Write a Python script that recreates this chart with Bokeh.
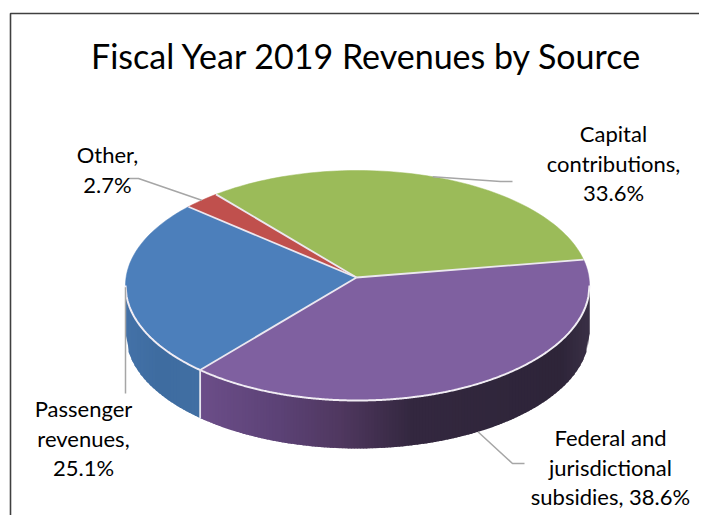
import math
from bokeh.plotting import figure
from bokeh.models import Range1d
from bokeh.core.properties import value
from bokeh.embed import file_html
from bokeh.resources import INLINE

TITLE = "Fiscal Year 2019 Revenues by Source"
categories = ["Federal and jurisdictional subsidies", "Passenger revenues", "Other", "Capital contributions"]
shares = [38.6, 25.1, 2.7, 33.6]
colors = ["#7f60a0", "#4c7fbb", "#c0504d", "#9bbb59"]
label_lines = [["Federal and", "jurisdictional", "subsidies, 38.6%"],
               ["Passenger", "revenues,", "25.1%"],
               ["Other,", "2.7%"],
               ["Capital", "contributions,", "33.6%"]]

# layout (reference pixels)
FONT = "Lato"
CX, CY, RX, RY = 357.0, 285.0, 232.0, 115.0
AX, AY = 356.0, 277.0
DEPTH = 48.0
START = 81.0
label_x = [610, 83, 107, 613]
label_y = [446, 417, 163, 142]
LINE_H = 29.5
BASE_SHIFT = 0.4   # rendered baseline sits this many em below the requested y
TITLE_PX, LABEL_PX = 34, 22
elbows = [[(512, 463), (524, 463)], [(125, 393)], [(138, 178), (128, 178)], [(500, 181), (512, 181)]]
leader_drop = [DEPTH, 0, 0, 0]
purple_stops = [(201, (108, 78, 137)), (280, (92, 66, 118)), (340, (80, 56, 96)), (410, (52, 40, 64)), (560, (46, 37, 57)), (589, (58, 48, 70))]
blue_stops = [(125, (68, 114, 168)), (160, (62, 108, 160)), (201, (66, 112, 164))]


def edge(theta_deg):
    t = math.radians(theta_deg)
    dx, dy = math.sin(t), -math.cos(t)
    ax, ay = (AX - CX) / RX, (AY - CY) / RY
    b = ax * dx + ay * dy
    c = ax * ax + ay * ay - 1
    s = -b + math.sqrt(b * b - c)
    return CX + RX * (ax + s * dx), CY + RY * (ay + s * dy)


def mix(stops, x):
    for (x0, c0), (x1, c1) in zip(stops, stops[1:]):
        if x <= x1:
            f = max(0.0, (x - x0) / (x1 - x0))
            return "#%02x%02x%02x" % tuple(int(a + (b - a) * f) for a, b in zip(c0, c1))
    return "#%02x%02x%02x" % stops[-1][1]


p = figure(width=699, height=515, output_backend="svg", toolbar_location=None,
           x_range=Range1d(0, 699), y_range=Range1d(515, 0),
           min_border=0, outline_line_color=None, background_fill_color="white")
p.axis.visible = False
p.grid.visible = False
p.xaxis.visible = False
p.yaxis.visible = False

# frame (only its top and left edges fall inside the picture)
p.line([10, 10, 699], [515, 13, 13], line_color="#404040", line_width=1.6)

# angles of slice boundaries
bounds = [START]
for v in shares:
    bounds.append(bounds[-1] + v / sum(shares) * 360)
split_x, split_y = edge(bounds[1])


def front_y(q):
    return CY + RY * math.sqrt(max(0, 1 - ((q - CX) / RX) ** 2))


# side wall: overlapping strips, each painted over the previous, so no seams show
STEP = 3.0
x = CX - RX
while x < CX + RX - 1e-6:
    x1 = min(x + STEP, CX + RX)
    x2 = min(x + STEP + 2, CX + RX)
    mid = (x + x1) / 2
    col = mix(blue_stops, mid) if mid < split_x else mix(purple_stops, mid)
    p.patch([x, x2, x2, x], [front_y(x), front_y(x2), front_y(x2) + DEPTH, front_y(x) + DEPTH],
            fill_color=col, line_color=None)
    x = x1

# top face
for i, c in enumerate(colors):
    a0, a1 = bounds[i], bounds[i + 1]
    n = max(3, int((a1 - a0) / 1.5))
    pts = [edge(a0 + (a1 - a0) * k / n) for k in range(n + 1)]
    p.patch([AX] + [q[0] for q in pts], [AY] + [q[1] for q in pts], fill_color=c, line_color=c, line_width=0.5)

# white rim along the front edge and the slice boundaries
rim_x = [CX - RX + k for k in range(int(2 * RX) + 1)]
rim_y = [front_y(q) for q in rim_x]
p.line(rim_x, rim_y, line_color="#f1edf4", line_width=2)
for a in bounds[:-1]:
    ex, ey = edge(a)
    p.line([AX, ex], [AY, ey], line_color="#ece8f0", line_width=1.8)
p.line([split_x, split_x], [split_y, split_y + DEPTH], line_color="#e6e6ee", line_width=1.8)

# leader lines, starting at each slice's mid angle
for i in range(len(shares)):
    sx, sy = edge((bounds[i] + bounds[i + 1]) / 2)
    lx = [sx] + [q[0] for q in elbows[i]]
    ly = [sy + leader_drop[i]] + [q[1] for q in elbows[i]]
    p.line(lx, ly, line_color="#a6a6a6", line_width=1.5)

# title and labels
p.text([366.5], [69 - BASE_SHIFT * TITLE_PX], text=[TITLE], text_font=value(FONT),
       text_font_size=f"{TITLE_PX}px", text_color="#000000", text_align="center",
       text_baseline="alphabetic")
for i, lines in enumerate(label_lines):
    for k, t in enumerate(lines):
        p.text([label_x[i]], [label_y[i] + k * LINE_H - BASE_SHIFT * LABEL_PX], text=[t],
               text_font=value(FONT), text_font_size=f"{LABEL_PX}px", text_color="#000000",
               text_align="center", text_baseline="alphabetic")

open("out.html", "w").write(file_html(p, INLINE))
